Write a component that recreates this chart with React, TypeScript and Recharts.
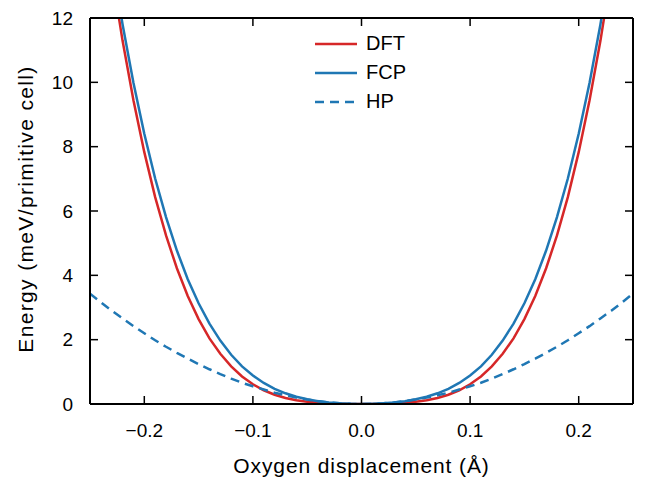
import { Legend, Line, LineChart, XAxis, YAxis } from "recharts";

const xs = [
  -0.25, -0.24, -0.23, -0.22, -0.21, -0.2, -0.19, -0.18, -0.17, -0.16, -0.15,
  -0.14, -0.13, -0.12, -0.11, -0.1, -0.09, -0.08, -0.07, -0.06, -0.05, -0.04,
  -0.03, -0.02, -0.01, 0, 0.01, 0.02, 0.03, 0.04, 0.05, 0.06, 0.07, 0.08, 0.09,
  0.1, 0.11, 0.12, 0.13, 0.14, 0.15, 0.16, 0.17, 0.18, 0.19, 0.2, 0.21, 0.22,
  0.23, 0.24, 0.25,
];

const dft = [
  18.53, 15.81, 13.41, 11.29, 9.44, 7.83, 6.43, 5.24, 4.22, 3.36, 2.64, 2.04,
  1.56, 1.17, 0.855, 0.612, 0.427, 0.288, 0.188, 0.117, 0.069, 0.038, 0.018,
  0.007, 0.002, 0, 0.002, 0.007, 0.018, 0.038, 0.069, 0.117, 0.188, 0.288,
  0.427, 0.612, 0.855, 1.17, 1.56, 2.04, 2.64, 3.36, 4.22, 5.24, 6.43, 7.83,
  9.44, 11.29, 13.41, 15.81, 18.53,
];

const fcp = [
  18.81, 16.19, 13.86, 11.8, 9.99, 8.4, 7.01, 5.81, 4.77, 3.88, 3.13, 2.5, 1.97,
  1.53, 1.17, 0.886, 0.655, 0.473, 0.333, 0.226, 0.146, 0.087, 0.047, 0.02,
  0.005, 0, 0.005, 0.02, 0.047, 0.087, 0.146, 0.226, 0.333, 0.473, 0.655,
  0.886, 1.17, 1.53, 1.97, 2.5, 3.13, 3.88, 4.77, 5.81, 7.01, 8.4, 9.99, 11.8,
  13.86, 16.19, 18.81,
];

const hp = [
  3.43, 3.16, 2.9, 2.66, 2.42, 2.2, 1.98, 1.78, 1.59, 1.41, 1.24, 1.08, 0.93,
  0.79, 0.66, 0.55, 0.45, 0.35, 0.27, 0.2, 0.14, 0.09, 0.05, 0.02, 0.005, 0,
  0.005, 0.02, 0.05, 0.09, 0.14, 0.2, 0.27, 0.35, 0.45, 0.55, 0.66, 0.79, 0.93,
  1.08, 1.24, 1.41, 1.59, 1.78, 1.98, 2.2, 2.42, 2.66, 2.9, 3.16, 3.43,
];

const xTicks = [-0.2, -0.1, 0, 0.1, 0.2];
const yTicks = [0, 2, 4, 6, 8, 10, 12];

const data = xs.map((x, i) => ({ x, dft: dft[i], fcp: fcp[i], hp: hp[i] }));

const RED = "#d62728";
const BLUE = "#1f77b4";
const FONT = "'Liberation Sans', Arial, sans-serif";

const legendItems = [
  { name: "DFT", color: RED, dash: undefined },
  { name: "FCP", color: BLUE, dash: undefined },
  { name: "HP", color: BLUE, dash: "9 6" },
];

function fmtX(v: number) {
  if (Math.abs(v) < 1e-9) return "0.0";
  return v < 0 ? `\u2212${Math.abs(v).toFixed(1)}` : v.toFixed(1);
}

function LegendBox() {
  return (
    <div style={{ fontFamily: FONT, fontSize: 20, color: "#000" }}>
      {legendItems.map((it) => (
        <div
          key={it.name}
          style={{ display: "flex", alignItems: "center", height: 29 }}
        >
          <svg width={52} height={10}>
            <line
              x1={1}
              x2={43}
              y1={5}
              y2={5}
              stroke={it.color}
              strokeWidth={2.5}
              strokeDasharray={it.dash}
            />
          </svg>
          <span>{it.name}</span>
        </div>
      ))}
    </div>
  );
}

const axisLine = { stroke: "#000", strokeWidth: 2 };
const tickLine = { stroke: "#000", strokeWidth: 1.5 };
const tickStyle = { fill: "#000", fontSize: 19, fontFamily: FONT };

export default function App() {
  return (
    <div style={{ position: "absolute", left: 0, top: 0, background: "#fff" }}>
      <LineChart
        width={648}
        height={479}
        data={data}
        margin={{ top: 17, right: 14, bottom: 0, left: 0 }}
      >
        <XAxis
          dataKey="x"
          type="number"
          domain={[-0.25, 0.25]}
          ticks={xTicks}
          allowDataOverflow
          height={75}
          tickSize={-8}
          tickMargin={28}
          axisLine={axisLine}
          tickLine={tickLine}
          tick={tickStyle}
          tickFormatter={fmtX}
          label={{
            value: "Oxygen displacement (\u00c5)",
            position: "center",
            dy: 24,
            style: { fill: "#000", fontSize: 21, fontFamily: FONT, letterSpacing: 0.9 },
          }}
        />
        <XAxis
          xAxisId="top"
          orientation="top"
          dataKey="x"
          type="number"
          domain={[-0.25, 0.25]}
          ticks={xTicks}
          allowDataOverflow
          height={1}
          tickSize={-8}
          axisLine={axisLine}
          tickLine={tickLine}
          tickFormatter={() => ""}
        />
        <YAxis
          type="number"
          domain={[0, 12]}
          ticks={yTicks}
          allowDataOverflow
          width={90}
          tickSize={-8}
          tickMargin={25}
          axisLine={axisLine}
          tickLine={tickLine}
          tick={tickStyle}
          label={{
            value: "Energy (meV/primitive cell)",
            angle: -90,
            position: "center",
            dx: -19,
            dy: -2,
            style: { fill: "#000", fontSize: 21, fontFamily: FONT, letterSpacing: 1.35 },
          }}
        />
        <YAxis
          yAxisId="right"
          orientation="right"
          type="number"
          domain={[0, 12]}
          ticks={yTicks}
          allowDataOverflow
          width={1}
          tickSize={-8}
          axisLine={axisLine}
          tickLine={tickLine}
          tickFormatter={() => ""}
        />
        <Legend
          layout="vertical"
          align="center"
          verticalAlign="middle"
          content={() => <LegendBox />}
          wrapperStyle={{ left: 314, top: 29, width: 140 }}
        />
        <Line
          dataKey="dft"
          name="DFT"
          type="linear"
          stroke={RED}
          strokeWidth={2.5}
          dot={false}
          isAnimationActive={false}
        />
        <Line
          dataKey="fcp"
          name="FCP"
          type="linear"
          stroke={BLUE}
          strokeWidth={2.5}
          dot={false}
          isAnimationActive={false}
        />
        <Line
          dataKey="hp"
          name="HP"
          type="linear"
          stroke={BLUE}
          strokeWidth={2.5}
          strokeDasharray="9 6"
          dot={false}
          isAnimationActive={false}
        />
      </LineChart>
    </div>
  );
}
